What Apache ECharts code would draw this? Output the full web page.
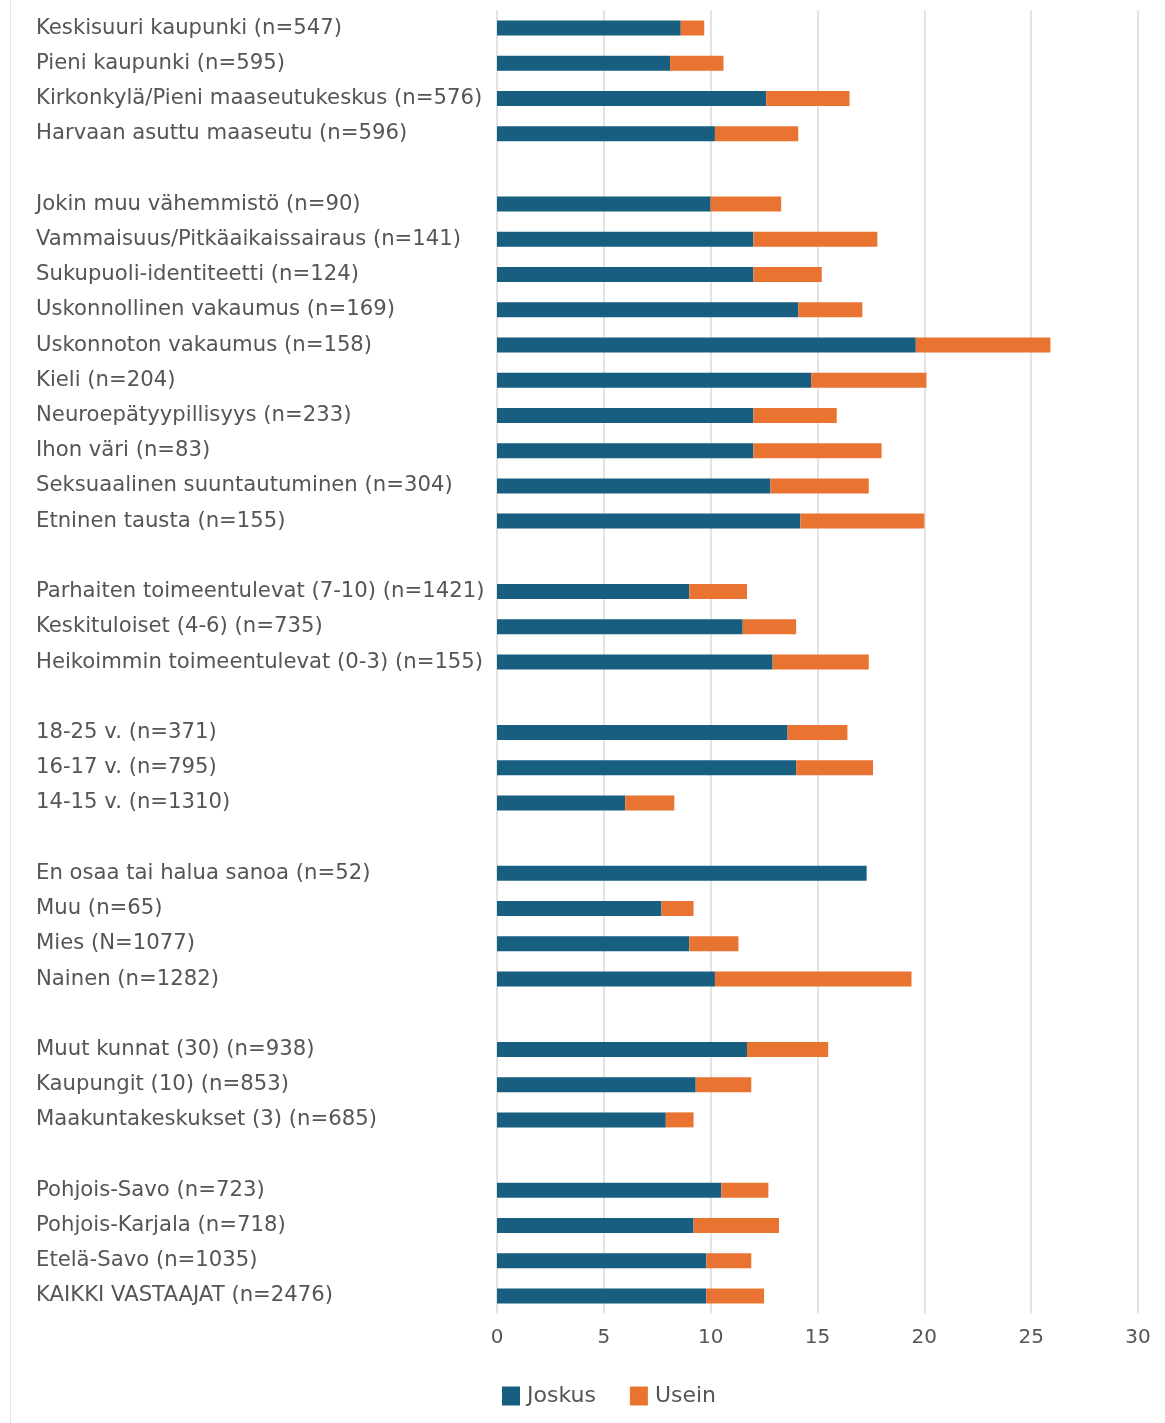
<!DOCTYPE html>
<html><head><meta charset="utf-8">
<script src="https://cdn.jsdelivr.net/npm/echarts@6/dist/echarts.min.js"></script>
<style>html,body{margin:0;padding:0;background:#fff}#c{width:1165px;height:1423px}</style>
</head><body><div id="c"></div>
<script>
const categories = [
  'Keskisuuri kaupunki (n=547)','Pieni kaupunki (n=595)','Kirkonkylä/Pieni maaseutukeskus (n=576)','Harvaan asuttu maaseutu (n=596)','',
  'Jokin muu vähemmistö (n=90)','Vammaisuus/Pitkäaikaissairaus (n=141)','Sukupuoli-identiteetti (n=124)','Uskonnollinen vakaumus (n=169)','Uskonnoton vakaumus (n=158)','Kieli (n=204)','Neuroepätyypillisyys (n=233)','Ihon väri (n=83)','Seksuaalinen suuntautuminen (n=304)','Etninen tausta (n=155)',' ',
  'Parhaiten toimeentulevat (7-10) (n=1421)','Keskituloiset (4-6) (n=735)','Heikoimmin toimeentulevat (0-3) (n=155)','  ',
  '18-25 v. (n=371)','16-17 v. (n=795)','14-15 v. (n=1310)','   ',
  'En osaa tai halua sanoa (n=52)','Muu (n=65)','Mies (N=1077)','Nainen (n=1282)','    ',
  'Muut kunnat (30) (n=938)','Kaupungit (10) (n=853)','Maakuntakeskukset (3) (n=685)','     ',
  'Pohjois-Savo (n=723)','Pohjois-Karjala (n=718)','Etelä-Savo (n=1035)','KAIKKI VASTAAJAT (n=2476)'
];
const joskus = [
  8.6, 8.1, 12.6, 10.2, '-',
  10.0, 12.0, 12.0, 14.1, 19.6, 14.7, 12.0, 12.0, 12.8, 14.2, '-',
  9.0, 11.5, 12.9, '-',
  13.6, 14.0, 6.0, '-',
  17.3, 7.7, 9.0, 10.2, '-',
  11.7, 9.3, 7.9, '-',
  10.5, 9.2, 9.8, 9.8
];
const usein = [
  1.1, 2.5, 3.9, 3.9, '-',
  3.3, 5.8, 3.2, 3.0, 6.3, 5.4, 3.9, 6.0, 4.6, 5.8, '-',
  2.7, 2.5, 4.5, '-',
  2.8, 3.6, 2.3, '-',
  0, 1.5, 2.3, 9.2, '-',
  3.8, 2.6, 1.3, '-',
  2.2, 4.0, 2.1, 2.7
];
const xTicks = {min: 0, max: 30, interval: 5};
const seriesNames = ['Joskus', 'Usein'];

const chart = echarts.init(document.getElementById('c'));
const font = 'DejaVu Sans, Verdana, sans-serif';
chart.setOption({
  animation: false,
  backgroundColor: '#fff',
  graphic: [{type: 'line', shape: {x1: 10.5, y1: 0, x2: 10.5, y2: 1423}, style: {stroke: '#e4e4e4', lineWidth: 1}}],
  legend: {
    data: seriesNames, left: 502, top: 1385, padding: 0, itemWidth: 18, itemHeight: 19, itemGap: 34,
    icon: 'rect', textStyle: {fontFamily: font, fontSize: 22, color: '#555', padding: [0,0,0,2]}
  },
  grid: {left: 497, right: 27, top: 10.4, bottom: 109.4, containLabel: false},
  xAxis: {
    type: 'value', min: xTicks.min, max: xTicks.max, interval: xTicks.interval,
    axisLine: {show: false}, axisTick: {show: false},
    splitLine: {lineStyle: {color: '#e3e3e3', width: 2}},
    axisLabel: {fontFamily: font, fontSize: 20, color: '#555', margin: 14}
  },
  yAxis: {
    type: 'category', data: categories, inverse: true,
    axisLine: {show: false}, axisTick: {show: false},
    axisLabel: {fontFamily: font, fontSize: 21.2, color: '#555', align: 'left', margin: 461, interval: 0, padding: [6, 0, 0, 0]}
  },
  series: [
    {name: 'Joskus', type: 'bar', stack: 's', data: joskus, barWidth: 15, itemStyle: {color: '#175e80'}},
    {name: 'Usein', type: 'bar', stack: 's', data: usein, barWidth: 15, itemStyle: {color: '#e97432'}}
  ]
});
</script></body></html>
